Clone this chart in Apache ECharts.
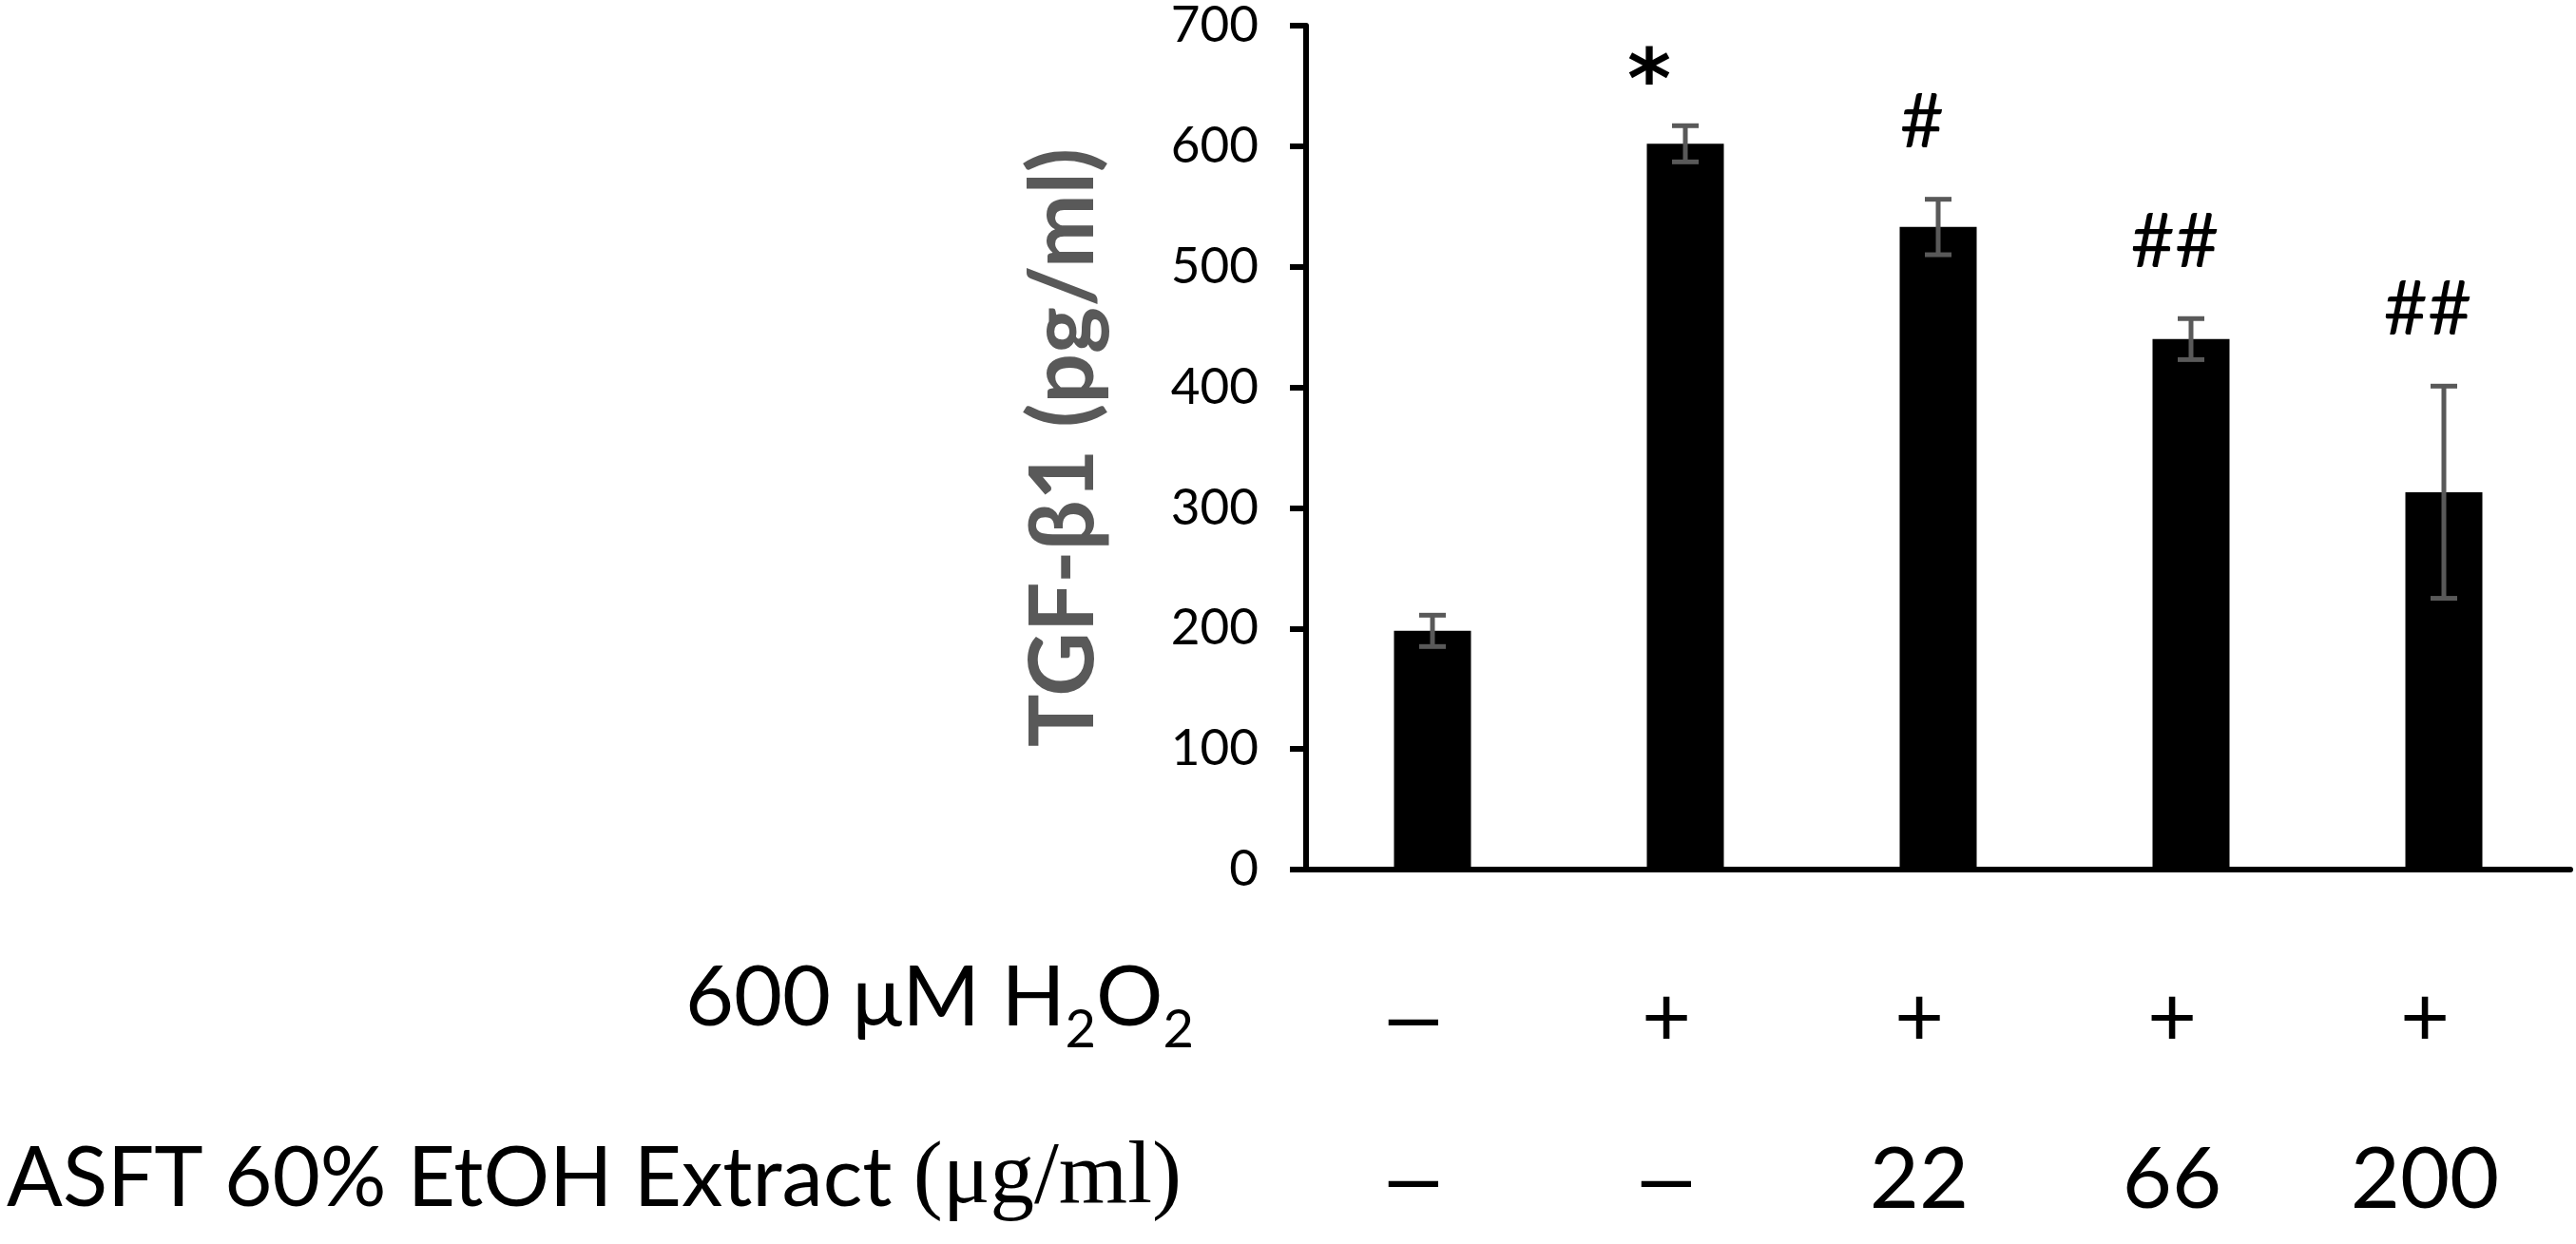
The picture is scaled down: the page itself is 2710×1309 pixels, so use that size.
<!DOCTYPE html>
<html>
<head>
<meta charset="utf-8">
<script src="https://cdn.jsdelivr.net/npm/echarts@6/dist/echarts.min.js"></script>
<style>
  html, body { margin: 0; padding: 0; background: #fff; }
  #chart { width: 2710px; height: 1309px; }
</style>
</head>
<body>
<div id="chart"></div>
<script>
// 组别和数据
const groups = ['Control', 'H2O2', 'H2O2 + 22', 'H2O2 + 66', 'H2O2 + 200']
const tgfMeans = [198, 602, 533, 440, 313]
const tgfErrors = [13, 15, 23, 17, 88]
const signifMarks = ['', '*', '#', '##', '##']
// 底部两行标签
const h2o2Row = ['–', '+', '+', '+', '+']
const extractRow = ['–', '–', '22', '66', '200']
const yMax = 700
const yStep = 100

const sans = 'Lato'
const myChart = echarts.init(document.querySelector('#chart'))

// 横线用别的字体，宽一点
const rowLabel = (txt) => txt === '–' ? '{d|–}' : txt

const rowLabelStyle = {
  fontFamily: sans,
  fontSize: 90,
  color: '#000',
  padding: [0, 40, 0, 0],
  rich: {
    d: { fontFamily: 'Liberation Sans', fontSize: 94, color: '#000' }
  }
}

const option = {
  animation: false,
  backgroundColor: '#fff',
  grid: { left: 1374, right: 6, top: 27, bottom: 394 },
  xAxis: [
    {
      type: 'category',
      data: groups,
      axisLine: { show: true, lineStyle: { color: '#000', width: 6 } },
      axisTick: { show: false },
      axisLabel: Object.assign({}, rowLabelStyle, {
        margin: 112,
        formatter: (v, i) => rowLabel(h2o2Row[i])
      })
    },
    {
      type: 'category',
      data: groups,
      position: 'bottom',
      axisLine: { show: false },
      axisTick: { show: false },
      axisLabel: Object.assign({}, rowLabelStyle, {
        margin: 282,
        formatter: (v, i) => rowLabel(extractRow[i])
      })
    }
  ],
  yAxis: {
    type: 'value',
    min: 0,
    max: yMax,
    interval: yStep,
    name: 'TGF-β1 (pg/ml)',
    nameLocation: 'middle',
    nameRotate: 90,
    nameGap: 208,
    nameTextStyle: { fontFamily: sans, fontWeight: 'bold', fontSize: 93, color: '#595959' },
    axisLine: { show: true, lineStyle: { color: '#000', width: 6 } },
    axisTick: { show: true, length: 17, lineStyle: { color: '#000', width: 6 } },
    axisLabel: { margin: 50, fontFamily: sans, fontSize: 53, color: '#000' },
    splitLine: { show: false }
  },
  series: [
    {
      type: 'bar',
      data: tgfMeans,
      barWidth: 81,
      itemStyle: { color: '#000' }
    },
    // 误差线
    {
      type: 'custom',
      data: tgfMeans.map((m, i) => [i, m, tgfErrors[i]]),
      z: 5,
      renderItem: (params, api) => {
        const i = api.value(0), m = api.value(1), e = api.value(2)
        const top = api.coord([i, m + e])
        const bot = api.coord([i, m - e])
        const hw = 14
        const style = { stroke: '#595959', lineWidth: 5 }
        return {
          type: 'group',
          children: [
            { type: 'line', shape: { x1: top[0], y1: top[1], x2: bot[0], y2: bot[1] }, style },
            { type: 'line', shape: { x1: top[0] - hw, y1: top[1], x2: top[0] + hw, y2: top[1] }, style },
            { type: 'line', shape: { x1: bot[0] - hw, y1: bot[1], x2: bot[0] + hw, y2: bot[1] }, style }
          ]
        }
      }
    },
    // 显著性标记
    {
      type: 'custom',
      data: tgfMeans.map((m, i) => [i, m + tgfErrors[i]]),
      z: 6,
      renderItem: (params, api) => {
        const i = api.value(0)
        const p = api.coord([i, api.value(1)])
        const txt = signifMarks[params.dataIndex]
        const star = txt === '*'
        return {
          type: 'text',
          x: p[0] - (star ? 38 : 17),
          y: p[1] - (star ? 42 : 80),
          style: {
            text: txt,
            fill: '#000',
            font: star ? 'bold 88px DejaVu Sans' : '80px ' + sans,
            textAlign: 'center',
            textVerticalAlign: 'middle'
          }
        }
      }
    }
  ],
  graphic: [
    {
      type: 'text',
      right: 2710 - 1256,
      top: 1007,
      style: {
        text: '{m|600 μM H}{sub|2}{m|O}{sub|2}',
        font: '88px ' + sans,
        fill: '#000',
        rich: {
          m: { fontSize: 88, fontFamily: sans, lineHeight: 90, verticalAlign: 'middle' },
          sub: { fontSize: 56, fontFamily: sans, verticalAlign: 'bottom', lineHeight: 122 }
        }
      }
    },
    {
      type: 'text',
      left: 7,
      top: 1194,
      style: {
        text: 'ASFT 60% EtOH Extract {serif|(μg/ml)}',
        font: '87px ' + sans,
        fill: '#000',
        rich: {
          serif: { fontFamily: 'Liberation Serif', fontSize: 93 }
        }
      }
    }
  ]
}
myChart.setOption(option)
</script>
</body>
</html>
